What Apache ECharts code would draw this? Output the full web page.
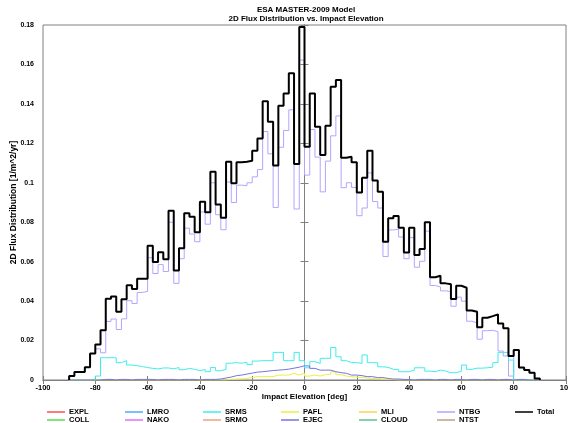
<!DOCTYPE html>
<html><head><meta charset="utf-8">
<script src="https://cdn.jsdelivr.net/npm/echarts@6/dist/echarts.min.js"></script>
<style>html,body{margin:0;padding:0;background:#fff}#c{width:568px;height:423px}</style>
</head><body><div id="c"></div>
<script>
// bin left edges (deg), 2-degree bins from -90 to 90
const binEdges = [-90,-88,-86,-84,-82,-80,-78,-76,-74,-72,-70,-68,-66,-64,-62,-60,-58,-56,-54,-52,-50,-48,-46,-44,-42,-40,-38,-36,-34,-32,-30,-28,-26,-24,-22,-20,-18,-16,-14,-12,-10,-8,-6,-4,-2,0,2,4,6,8,10,12,14,16,18,20,22,24,26,28,30,32,34,36,38,40,42,44,46,48,50,52,54,56,58,60,62,64,66,68,70,72,74,76,78,80,82,84,86,88];
const binEnd = 90;

const totalVals = [0.002,0.004,0.004,0.0065,0.0135,0.018,0.0252,0.0412,0.0424,0.0346,0.041,0.048,0.0462,0.0513,0.0513,0.0681,0.0598,0.0648,0.0612,0.0858,0.0555,0.0668,0.0845,0.0828,0.0749,0.0904,0.085,0.1056,0.089,0.0823,0.1107,0.0997,0.1104,0.1107,0.1112,0.1163,0.1224,0.1414,0.131,0.1087,0.139,0.1453,0.1555,0.1095,0.179,
0.1183,0.1453,0.1284,0.1141,0.1289,0.1487,0.1521,0.1127,0.1132,0.1104,0.0951,0.1026,0.1163,0.1011,0.0955,0.0701,0.082,0.0831,0.0772,0.0646,0.0772,0.0634,0.0664,0.08,0.0521,0.0529,0.049,0.0485,0.0411,0.0478,0.0468,0.0352,0.0346,0.0267,0.0316,0.0324,0.0333,0.0287,0.0262,0.0122,0.0152,0.0063,0.0051,0.0037,0.0008];

const ntbgVals = [0.002,0.004,0.004,0.0065,0.0133,0.0158,0.0138,0.0297,0.0309,0.0256,0.031,0.0402,0.0388,0.0444,0.0449,0.062,0.054,0.0585,0.055,0.08,0.049,0.0615,0.077,0.074,0.0701,0.0852,0.079,0.1,0.0838,0.0762,0.1004,0.09,0.0988,0.0985,0.1,0.103,0.1067,0.126,0.1147,0.0875,0.118,0.1265,0.137,0.0867,0.1622,
0.1039,0.127,0.113,0.0954,0.111,0.1238,0.1339,0.0975,0.1,0.0976,0.0833,0.0872,0.105,0.0905,0.0872,0.0626,0.0761,0.0765,0.0725,0.0615,0.0722,0.0572,0.0602,0.0755,0.0479,0.0472,0.0452,0.0448,0.0374,0.042,0.04,0.0298,0.029,0.0207,0.025,0.0252,0.0245,0.0147,0.0122,0.002,0.015,0.0062,0.005,0.0036,0.0008];

const srmsVals = [0,0,0,0,0,0.002,0.0113,0.0113,0.0113,0.0088,0.0098,0.0076,0.0073,0.0068,0.0063,0.0059,0.0056,0.0061,0.0061,0.0057,0.0063,0.0052,0.0059,0.0054,0.0047,0.0054,0.0042,0.0063,0.0047,0.0054,0.0085,0.0088,0.0085,0.009,0.0078,0.0096,0.0098,0.0098,0.0098,0.014,0.014,0.0098,0.0098,0.014,0.0098,
0.0062,0.0093,0.0084,0.011,0.011,0.0165,0.0118,0.0098,0.0088,0.0088,0.0084,0.0127,0.0088,0.0088,0.0067,0.0064,0.0054,0.0054,0.0042,0.0042,0.005,0.0062,0.0062,0.0045,0.0042,0.005,0.0045,0.0037,0.0037,0.0045,0.0076,0.0054,0.006,0.006,0.0062,0.0065,0.0088,0.014,0.014,0.0101,0,0,0,0,0];

const ejecVals = [0,0,0,0,0,0,0.0003,0.0003,0,0.0003,0.0003,0,0.0003,0.0003,0.0003,0.0003,0,0.0003,0.0003,0.0003,0,0.0003,0.0003,0.0003,0,0.0003,0.0003,0.0003,0.0005,0.001,0.0015,0.0022,0.0025,0.003,0.0035,0.004,0.0042,0.0045,0.0048,0.005,0.0052,0.0055,0.006,0.0065,0.0072,
0.0071,0.0059,0.005,0.005,0.005,0.0042,0.0037,0.0034,0.0025,0.0025,0.0022,0.0017,0.0017,0.0012,0.0012,0.0008,0.0005,0.0005,0.0003,0.0003,0,0.0003,0.0003,0.0003,0,0.0003,0.0003,0,0.0003,0.0003,0,0.0003,0.0003,0,0.0003,0.0003,0,0.0003,0.0003,0,0.0003,0.0003,0,0,0];

const paflVals = [0,0,0,0,0,0,0,0,0,0,0,0,0,0,0,0,0,0,0,0,0,0,0,0,0,0,0,0,0,0,0.0003,0.0005,0.0006,0.0008,0.0012,0.0017,0.0017,0.0017,0.0017,0.0025,0.0025,0.0025,0.0034,0.0025,0.0034,
0.002,0.0025,0.002,0.0027,0.0029,0.0042,0.0027,0.002,0.0017,0.0015,0.0012,0.001,0.0008,0.0006,0.0004,0.0003,0.0002,0,0,0,0,0,0,0,0,0,0,0,0,0,0,0,0,0,0,0,0,0,0,0,0,0,0,0,0];

const legendRow1 = ['EXPL','LMRO','SRMS','PAFL','MLI','NTBG','Total'];
const legendRow2 = ['COLL','NAKO','SRMO','EJEC','CLOUD','NTST'];
const colors = {EXPL:'#ff5050',COLL:'#50e050',LMRO:'#50a8ff',NAKO:'#e070ff',SRMS:'#40ecec',SRMO:'#f0a080',PAFL:'#eeee40',EJEC:'#7474dc',MLI:'#ffd050',CLOUD:'#60c090',NTBG:'#b4a4ff',NTST:'#c0a080',Total:'#000000'};
const seriesValues = {NTBG:ntbgVals, SRMS:srmsVals, EJEC:ejecVals, PAFL:paflVals, Total:totalVals};

const titleLines = ['ESA MASTER-2009 Model','2D Flux Distribution vs. Impact Elevation'];
const xName = 'Impact Elevation [deg]';
const yName = '2D Flux Distribution [1/m^2/yr]';

function steps(vals){
  const pts = [[binEdges[0],0]];
  vals.forEach((v,i)=>pts.push([binEdges[i],v]));
  pts.push([binEnd, vals[vals.length-1]]);
  pts.push([binEnd, 0]);
  return pts;
}

const FONT = 'Liberation Sans';
const drawOrder = ['EXPL','COLL','LMRO','NAKO','SRMO','MLI','CLOUD','NTST','NTBG','SRMS','PAFL','EJEC','Total'];
const series = drawOrder.map(n => ({
  name:n, type:'line', step:'end', showSymbol:false, symbol:'none',
  data: seriesValues[n] ? steps(seriesValues[n]) : [],
  lineStyle:{color:colors[n], width: n==='Total'?2:1},
  itemStyle:{color:colors[n]},
  z: n==='Total'?10:5
}));

const legends = [];
legendRow1.forEach((n,i)=>legends.push({data:[n], left:47+78*i, top:408}));
legendRow2.forEach((n,i)=>legends.push({data:[n], left:47+78*i, top:416}));
legends.forEach(l=>{Object.assign(l,{orient:'horizontal', padding:0, itemWidth:18, itemHeight:1.5, icon:'rect', itemGap:7,
  textStyle:{fontFamily:FONT, fontSize:7.5, fontWeight:'bold', color:'#000', padding:[0,0,0,-1]}});});

const chart = echarts.init(document.getElementById('c'), null, {renderer:'canvas'});
chart.setOption({
  animation:false,
  backgroundColor:'#fff',
  title:{text:titleLines.join('\n'), left:301, top:0, textAlign:'center',
    textStyle:{fontFamily:FONT, fontSize:8, fontWeight:'bold', color:'#000', lineHeight:9}},
  legend: legends,
  grid:{left:43, right:2, top:25, bottom:43, containLabel:false, outerBoundsMode:'none',
    show:true, borderColor:'#808080', borderWidth:1, backgroundColor:'#fff'},
  xAxis:[{type:'value', min:-100, max:100, interval:20, position:'bottom',
    name:xName, nameLocation:'middle', nameGap:13, nameMoveOverlap:false,
    nameTextStyle:{fontFamily:FONT, fontSize:8, fontWeight:'bold', color:'#000'},
    axisLine:{lineStyle:{color:'#808080'}}, axisTick:{inside:true, length:4, lineStyle:{color:'#808080'}},
    axisLabel:{fontFamily:FONT, fontSize:7.5, fontWeight:'bold', color:'#000', margin:4, hideOverlap:false},
    splitLine:{show:false}},
   {type:'value', min:-100, max:100, interval:20, position:'top',
    axisLine:{lineStyle:{color:'#808080'}}, axisTick:{inside:true, length:4, lineStyle:{color:'#808080'}},
    axisLabel:{show:false}, splitLine:{show:false}}],
  yAxis:[{type:'value', min:0, max:0.18, interval:0.02, position:'left',
    name:yName, nameLocation:'middle', nameGap:25, nameRotate:90, nameMoveOverlap:false,
    nameTextStyle:{fontFamily:FONT, fontSize:8.5, fontWeight:'bold', color:'#000'},
    axisLine:{show:true, lineStyle:{color:'#808080'}}, axisTick:{show:true, inside:true, length:4, lineStyle:{color:'#808080'}},
    axisLabel:{fontFamily:FONT, fontSize:7, fontWeight:'bold', color:'#000', margin:9},
    splitLine:{show:false}},
   {type:'value', min:0, max:0.18, interval:0.02, position:'right',
    axisLine:{show:true, lineStyle:{color:'#808080'}}, axisTick:{show:true, inside:true, length:4, lineStyle:{color:'#808080'}},
    axisLabel:{show:false}, splitLine:{show:false}}],
  series: series
});
</script></body></html>
